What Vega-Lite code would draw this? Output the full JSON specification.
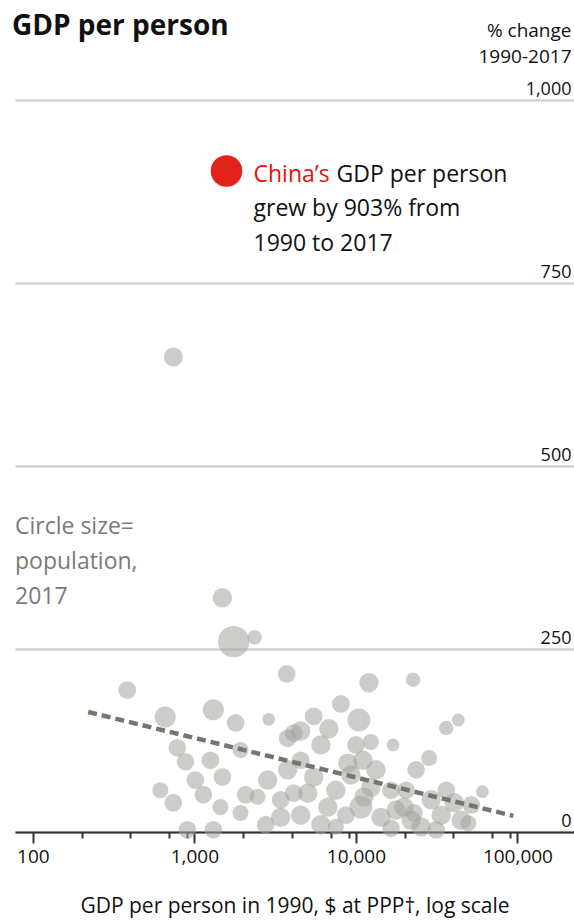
{
  "$schema": "https://vega.github.io/schema/vega-lite/v6.json",
  "width": 559,
  "height": 732,
  "autosize": {"type": "none"},
  "padding": {"left": 15, "top": 100, "right": 0, "bottom": 91},
  "background": "white",
  "config": {"view": {"stroke": null}, "font": "Open Sans"},
  "title": {"text": "GDP per person", "anchor": "start", "frame": "group", "fontSize": 28, "fontWeight": "bold", "font": "Open Sans", "color": "#111111", "baseline": "alphabetic", "offset": 0, "dy": 42, "dx": -3},
  "datasets": {
    "countries": [
      {"gdp1990": 741, "change": 649, "pop": 95},
      {"gdp1990": 1490, "change": 320, "pop": 107},
      {"gdp1990": 1750, "change": 260, "pop": 1339},
      {"gdp1990": 2360, "change": 266, "pop": 9},
      {"gdp1990": 384, "change": 194, "pop": 57},
      {"gdp1990": 3730, "change": 216, "pop": 57},
      {"gdp1990": 12050, "change": 204, "pop": 107},
      {"gdp1990": 22600, "change": 208, "pop": 9},
      {"gdp1990": 8070, "change": 175, "pop": 57},
      {"gdp1990": 10440, "change": 153, "pop": 280},
      {"gdp1990": 5480, "change": 158, "pop": 57},
      {"gdp1990": 4550, "change": 138, "pop": 107},
      {"gdp1990": 6800, "change": 141, "pop": 107},
      {"gdp1990": 3780, "change": 128, "pop": 57},
      {"gdp1990": 660, "change": 157, "pop": 179},
      {"gdp1990": 1310, "change": 167, "pop": 179},
      {"gdp1990": 1800, "change": 149, "pop": 57},
      {"gdp1990": 2880, "change": 154, "pop": 1},
      {"gdp1990": 784, "change": 115, "pop": 57},
      {"gdp1990": 880, "change": 96, "pop": 57},
      {"gdp1990": 1257, "change": 98, "pop": 57},
      {"gdp1990": 1490, "change": 75, "pop": 57},
      {"gdp1990": 741, "change": 40, "pop": 57},
      {"gdp1990": 1137, "change": 51, "pop": 57},
      {"gdp1990": 1450, "change": 34, "pop": 26},
      {"gdp1990": 1930, "change": 26, "pop": 26},
      {"gdp1990": 2460, "change": 48, "pop": 26},
      {"gdp1990": 2840, "change": 71, "pop": 107},
      {"gdp1990": 3780, "change": 85, "pop": 107},
      {"gdp1990": 905, "change": 3, "pop": 57},
      {"gdp1990": 1310, "change": 3, "pop": 57},
      {"gdp1990": 3420, "change": 20, "pop": 107},
      {"gdp1990": 4120, "change": 53, "pop": 57},
      {"gdp1990": 12390, "change": 123, "pop": 26},
      {"gdp1990": 16980, "change": 119, "pop": 1},
      {"gdp1990": 36240, "change": 142, "pop": 9},
      {"gdp1990": 43000, "change": 153, "pop": 1},
      {"gdp1990": 28400, "change": 101, "pop": 26},
      {"gdp1990": 11040, "change": 98, "pop": 107},
      {"gdp1990": 9310, "change": 78, "pop": 107},
      {"gdp1990": 12390, "change": 61, "pop": 107},
      {"gdp1990": 5480, "change": 75, "pop": 107},
      {"gdp1990": 6700, "change": 34, "pop": 107},
      {"gdp1990": 5035, "change": 53, "pop": 107},
      {"gdp1990": 10740, "change": 34, "pop": 280},
      {"gdp1990": 14290, "change": 20, "pop": 107},
      {"gdp1990": 21970, "change": 16, "pop": 107},
      {"gdp1990": 29240, "change": 44, "pop": 107},
      {"gdp1990": 40600, "change": 40, "pop": 107},
      {"gdp1990": 44900, "change": 16, "pop": 107},
      {"gdp1990": 60650, "change": 55, "pop": 1},
      {"gdp1990": 7510, "change": 7, "pop": 26},
      {"gdp1990": 25350, "change": 7, "pop": 107},
      {"gdp1990": 22900, "change": 26, "pop": 57},
      {"gdp1990": 49650, "change": 12, "pop": 26},
      {"gdp1990": 8913, "change": 94, "pop": 107},
      {"gdp1990": 11220, "change": 48, "pop": 107},
      {"gdp1990": 19860, "change": 34, "pop": 107},
      {"gdp1990": 1930, "change": 112, "pop": 26},
      {"gdp1990": 4120, "change": 135, "pop": 57},
      {"gdp1990": 4550, "change": 98, "pop": 57},
      {"gdp1990": 6066, "change": 119, "pop": 107},
      {"gdp1990": 7510, "change": 57, "pop": 107},
      {"gdp1990": 8670, "change": 23, "pop": 57},
      {"gdp1990": 10000, "change": 119, "pop": 57},
      {"gdp1990": 13310, "change": 85, "pop": 107},
      {"gdp1990": 16490, "change": 57, "pop": 57},
      {"gdp1990": 17710, "change": 30, "pop": 107},
      {"gdp1990": 20470, "change": 57, "pop": 57},
      {"gdp1990": 23600, "change": 85, "pop": 57},
      {"gdp1990": 33700, "change": 23, "pop": 107},
      {"gdp1990": 36240, "change": 57, "pop": 57},
      {"gdp1990": 51800, "change": 37, "pop": 57},
      {"gdp1990": 4550, "change": 23, "pop": 107},
      {"gdp1990": 2761, "change": 10, "pop": 57},
      {"gdp1990": 2075, "change": 51, "pop": 57},
      {"gdp1990": 3420, "change": 44, "pop": 57},
      {"gdp1990": 6066, "change": 10, "pop": 107},
      {"gdp1990": 16490, "change": 5, "pop": 57},
      {"gdp1990": 31400, "change": 3, "pop": 57},
      {"gdp1990": 1014, "change": 71, "pop": 57},
      {"gdp1990": 615, "change": 57, "pop": 26}
    ],
    "china": [{"gdp1990": 1580, "change": 903, "pop": 1386}],
    "trend": [{"gdp1990": 220, "change": 164}, {"gdp1990": 94400, "change": 22}]
  },
  "layer": [
    {
      "data": {"name": "countries"},
      "mark": {"type": "circle", "color": "#a3a39c", "opacity": 0.55},
      "encoding": {
        "x": {
          "field": "gdp1990", "type": "quantitative",
          "scale": {"type": "log", "domain": [77.5, 224000], "nice": false},
          "axis": {
            "orient": "bottom",
            "values": [100, 200, 400, 700, 900, 1000, 2000, 4000, 7000, 9000, 10000, 20000, 40000, 70000, 90000, 100000],
            "labelExpr": "indexof([100,1000,10000,100000], datum.value) >= 0 ? format(datum.value, ',') : ''",
            "tickSize": {"condition": {"test": "indexof([100,1000,10000,100000], datum.value) >= 0", "value": 11}, "value": 6},
            "tickColor": "#333333", "tickWidth": 2,
            "domainColor": "#333333", "domainWidth": 2,
            "grid": false,
            "labelFontSize": 19, "labelColor": "#111111", "labelPadding": 4,
            "labelFlush": false, "labelOverlap": false,
            "title": "GDP per person in 1990, $ at PPP†, log scale",
            "titleFontSize": 21, "titleFontWeight": "normal", "titleColor": "#111111", "titlePadding": 29
          }
        },
        "y": {
          "field": "change", "type": "quantitative",
          "scale": {"domain": [0, 1000], "nice": false},
          "axis": {
            "orient": "right",
            "values": [0, 250, 500, 750, 1000],
            "labelExpr": "format(datum.value, ',')",
            "grid": true, "gridColor": "#d2d2d2", "gridWidth": 2.5,
            "domain": false, "ticks": false, "tickSize": 0,
            "labelAlign": "right", "labelBaseline": "bottom", "labelPadding": -3, "labelOffset": -2,
            "labelFontSize": 18, "labelColor": "#111111", "labelFlush": false, "labelOverlap": false,
            "title": ["% change", "1990-2017"],
            "titleAngle": 0, "titleAlign": "right", "titleBaseline": "alphabetic",
            "titleX": -3, "titleY": -64, "titleLineHeight": 26,
            "titleFontSize": 19, "titleFontWeight": "normal", "titleColor": "#111111"
          }
        },
        "size": {"field": "pop", "type": "quantitative", "scale": {"type": "sqrt", "domain": [0, 1400], "range": [140, 1000]}, "legend": null}
      }
    },
    {
      "data": {"name": "trend"},
      "mark": {"type": "line", "strokeDash": [9, 5], "strokeWidth": 4.5, "color": "#76766c"},
      "encoding": {
        "x": {"field": "gdp1990", "type": "quantitative"},
        "y": {"field": "change", "type": "quantitative"}
      }
    },
    {
      "data": {"name": "china"},
      "mark": {"type": "circle", "color": "#e3231b", "opacity": 1},
      "encoding": {
        "x": {"field": "gdp1990", "type": "quantitative"},
        "y": {"field": "change", "type": "quantitative"},
        "size": {"field": "pop", "type": "quantitative"}
      }
    },
    {
      "data": {"values": [{}]},
      "mark": {"type": "text", "align": "left", "baseline": "alphabetic", "fontSize": 23, "color": "#e3120b"},
      "encoding": {"x": {"datum": 2323}, "y": {"datum": 888}, "text": {"value": "China’s"}}
    },
    {
      "data": {"values": [{}]},
      "mark": {"type": "text", "align": "left", "baseline": "alphabetic", "fontSize": 23, "color": "#111111", "dx": 83},
      "encoding": {"x": {"datum": 2323}, "y": {"datum": 888}, "text": {"value": "GDP per person"}}
    },
    {
      "data": {"values": [{}]},
      "mark": {"type": "text", "align": "left", "baseline": "alphabetic", "fontSize": 23, "color": "#111111", "lineHeight": 35},
      "encoding": {"x": {"datum": 2323}, "y": {"datum": 841}, "text": {"value": ["grew by 903% from", "1990 to 2017"]}}
    },
    {
      "data": {"values": [{}]},
      "mark": {"type": "text", "align": "left", "baseline": "alphabetic", "fontSize": 23, "color": "#7a7a7a", "lineHeight": 35},
      "encoding": {"x": {"datum": 77.5}, "y": {"datum": 407}, "text": {"value": ["Circle size=", "population,", "2017"]}}
    }
  ]
}
